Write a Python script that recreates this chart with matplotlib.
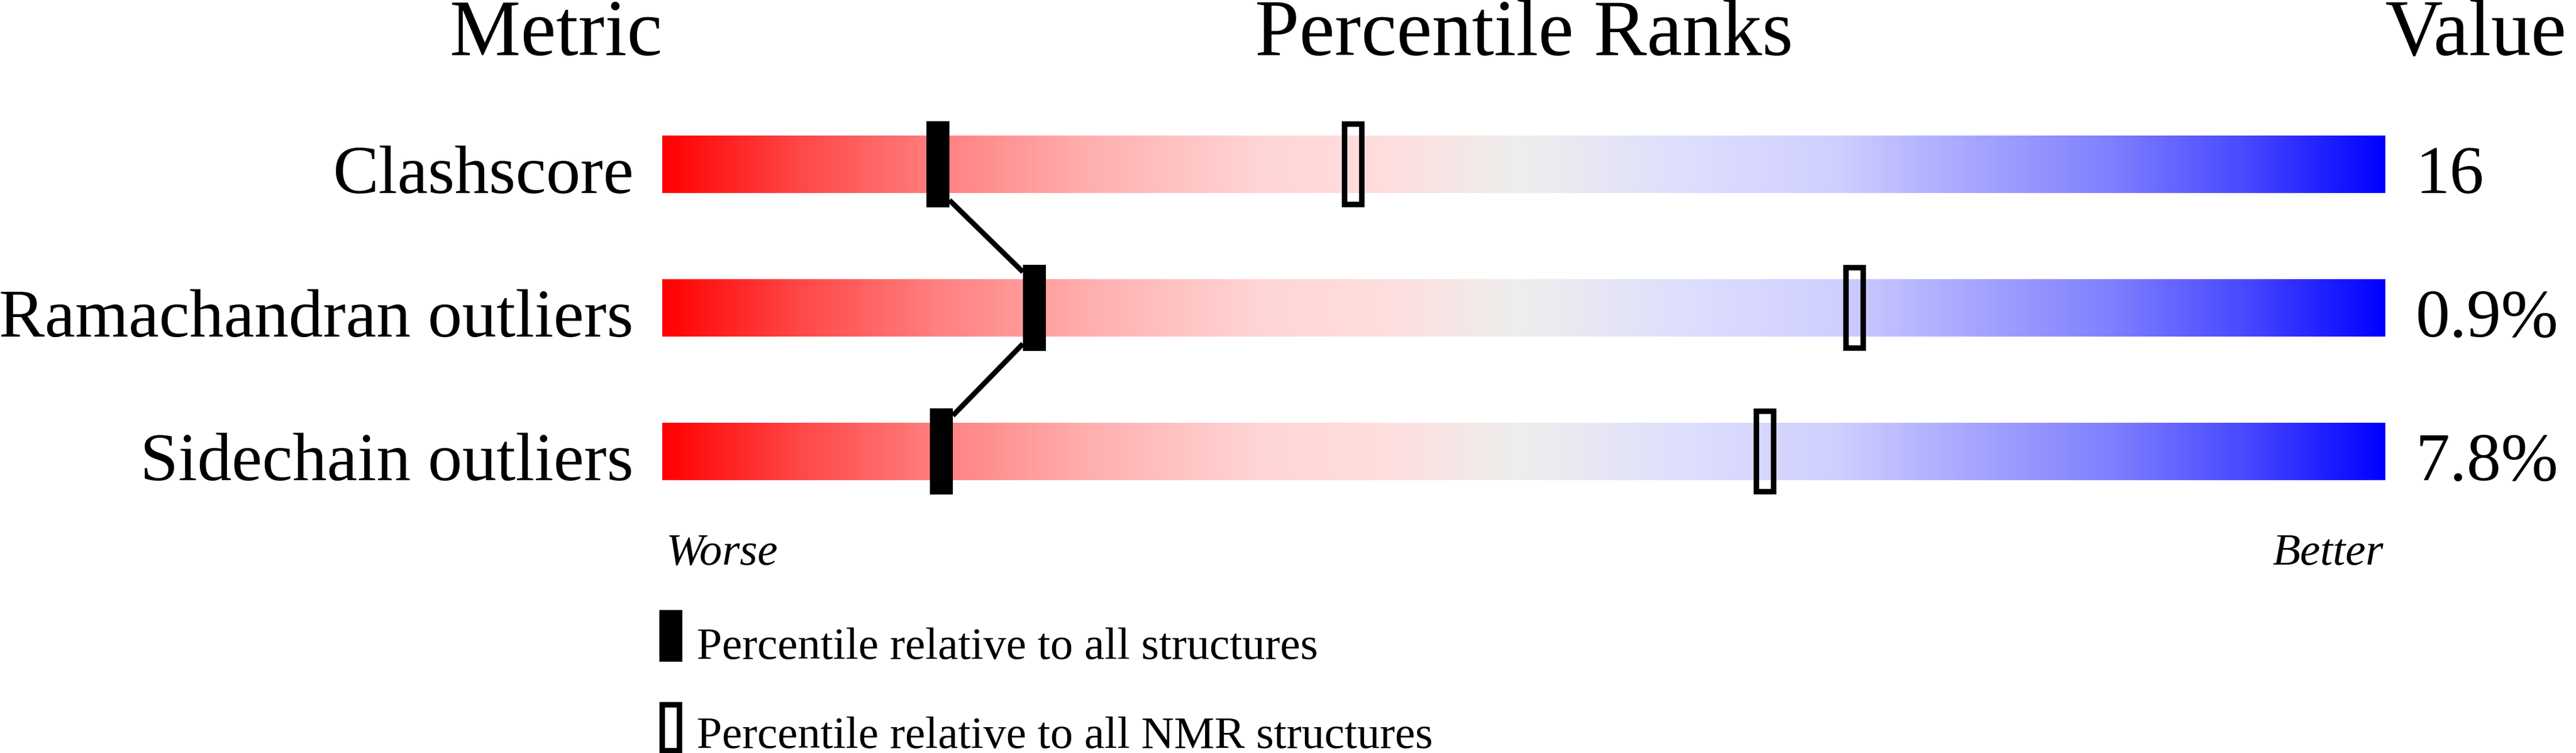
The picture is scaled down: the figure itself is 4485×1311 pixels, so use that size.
import numpy as np
import matplotlib
matplotlib.use('Agg')
import matplotlib.pyplot as plt
from matplotlib.patches import Rectangle

# data
metrics = ['Clashscore', 'Ramachandran outliers', 'Sidechain outliers']
values = ['16', '0.9%', '7.8%']
pct_all = [16.0, 21.6, 16.2]   # percentile vs all structures (filled)
pct_nmr = [40.1, 69.2, 64.0]   # percentile vs NMR structures (open)

W, H = 4485, 1311
BAR_L, BAR_R = 1153, 4153
ROW0, ROW_STEP = 286, 250
px_x = (BAR_R - BAR_L) / 100.0   # pixels per percentile unit

plt.rcParams['font.family'] = ['Liberation Serif', 'DejaVu Serif']

fig = plt.figure(figsize=(W / 100, H / 100), dpi=100)
ax = fig.add_axes([BAR_L / W, 0, (BAR_R - BAR_L) / W, 1])
ax.set_xlim(0, 100)
ax.set_ylim((H - ROW0) / ROW_STEP, -ROW0 / ROW_STEP)
ax.axis('off')

# red -> grey -> blue gradient
stops = [0.0, 0.08, 0.16, 0.25, 0.35, 0.42, 0.5, 0.6, 0.68, 0.75, 0.84, 0.92, 1.0]
rgb = np.array([
    [255, 0, 0], [255, 72, 72], [255, 128, 128], [255, 176, 176], [255, 214, 214],
    [255, 222, 222], [238, 238, 238], [221, 221, 255], [208, 208, 255],
    [171, 171, 255], [128, 128, 255], [72, 72, 255], [0, 0, 255]]) / 255.0
t = np.linspace(0, 1, 1000)
grad = np.stack([np.interp(t, stops, rgb[:, k]) for k in range(3)], axis=-1)[None, :, :]

bar_h = 100 / ROW_STEP
mk_h = 150 / ROW_STEP
mk_w = 40 / px_x
lw_px = 9.5

for i, name in enumerate(metrics):
    ax.imshow(grad, extent=(0, 100, i + bar_h / 2, i - bar_h / 2), aspect='auto',
              interpolation='bilinear', zorder=1)
    ax.text(-50 / px_x, i + bar_h / 2, name, ha='right', va='baseline', fontsize=86)
    ax.text(100 + 52 / px_x, i + bar_h / 2, values[i], ha='left', va='baseline', fontsize=86)

# connecting line between the filled markers
for i in range(len(pct_all) - 1):
    x1, x2 = pct_all[i], pct_all[i + 1]
    s = 1 if x2 >= x1 else -1
    ax.plot([x1 + s * mk_w / 2, x2 - s * mk_w / 2], [i + 0.25, i + 1 - 0.25],
            color='black', lw=9 * 0.72, solid_capstyle='butt', zorder=2)

for i, p in enumerate(pct_all):
    ax.add_patch(Rectangle((p - mk_w / 2, i - mk_h / 2), mk_w, mk_h,
                           facecolor='black', edgecolor='none', zorder=3))

dx = lw_px / 2 / px_x
dy = lw_px / 2 / ROW_STEP
for i, p in enumerate(pct_nmr):
    ax.add_patch(Rectangle((p - mk_w / 2 + dx, i - mk_h / 2 + dy), mk_w - 2 * dx, mk_h - 2 * dy,
                           facecolor='none', edgecolor='black', lw=lw_px * 0.72,
                           joinstyle='miter', zorder=3))

# headers
hy = (96 - ROW0) / ROW_STEP
ax.text(0, hy, 'Metric', ha='right', va='baseline', fontsize=100, clip_on=False)
ax.text(50, hy, 'Percentile Ranks', ha='center', va='baseline', fontsize=100)
ax.text(100, hy, 'Value', ha='left', va='baseline', fontsize=100, clip_on=False)

# worse / better
wy = (983 - ROW0) / ROW_STEP
ax.text(7 / px_x, wy, 'Worse', ha='left', va='baseline', fontsize=57, style='italic')
ax.text(100 - 3 / px_x, wy, 'Better', ha='right', va='baseline', fontsize=57, style='italic')

# legend
leg_top = [1062, 1222]
leg_base = [1147, 1302]
leg_text = ['Percentile relative to all structures', 'Percentile relative to all NMR structures']
lh = 90 / ROW_STEP
for k in range(2):
    y0 = (leg_top[k] - ROW0) / ROW_STEP
    if k == 0:
        ax.add_patch(Rectangle((0.5 - mk_w / 2, y0), mk_w, lh, facecolor='black',
                               edgecolor='none', clip_on=False))
    else:
        ax.add_patch(Rectangle((0.5 - mk_w / 2 + dx, y0 + dy), mk_w - 2 * dx, lh - 2 * dy,
                               facecolor='none', edgecolor='black', lw=lw_px * 0.72,
                               joinstyle='miter', clip_on=False))
    ax.text(60 / px_x, (leg_base[k] - ROW0) / ROW_STEP, leg_text[k], ha='left',
            va='baseline', fontsize=57)

fig.savefig('out.png', dpi=100, facecolor='white')
